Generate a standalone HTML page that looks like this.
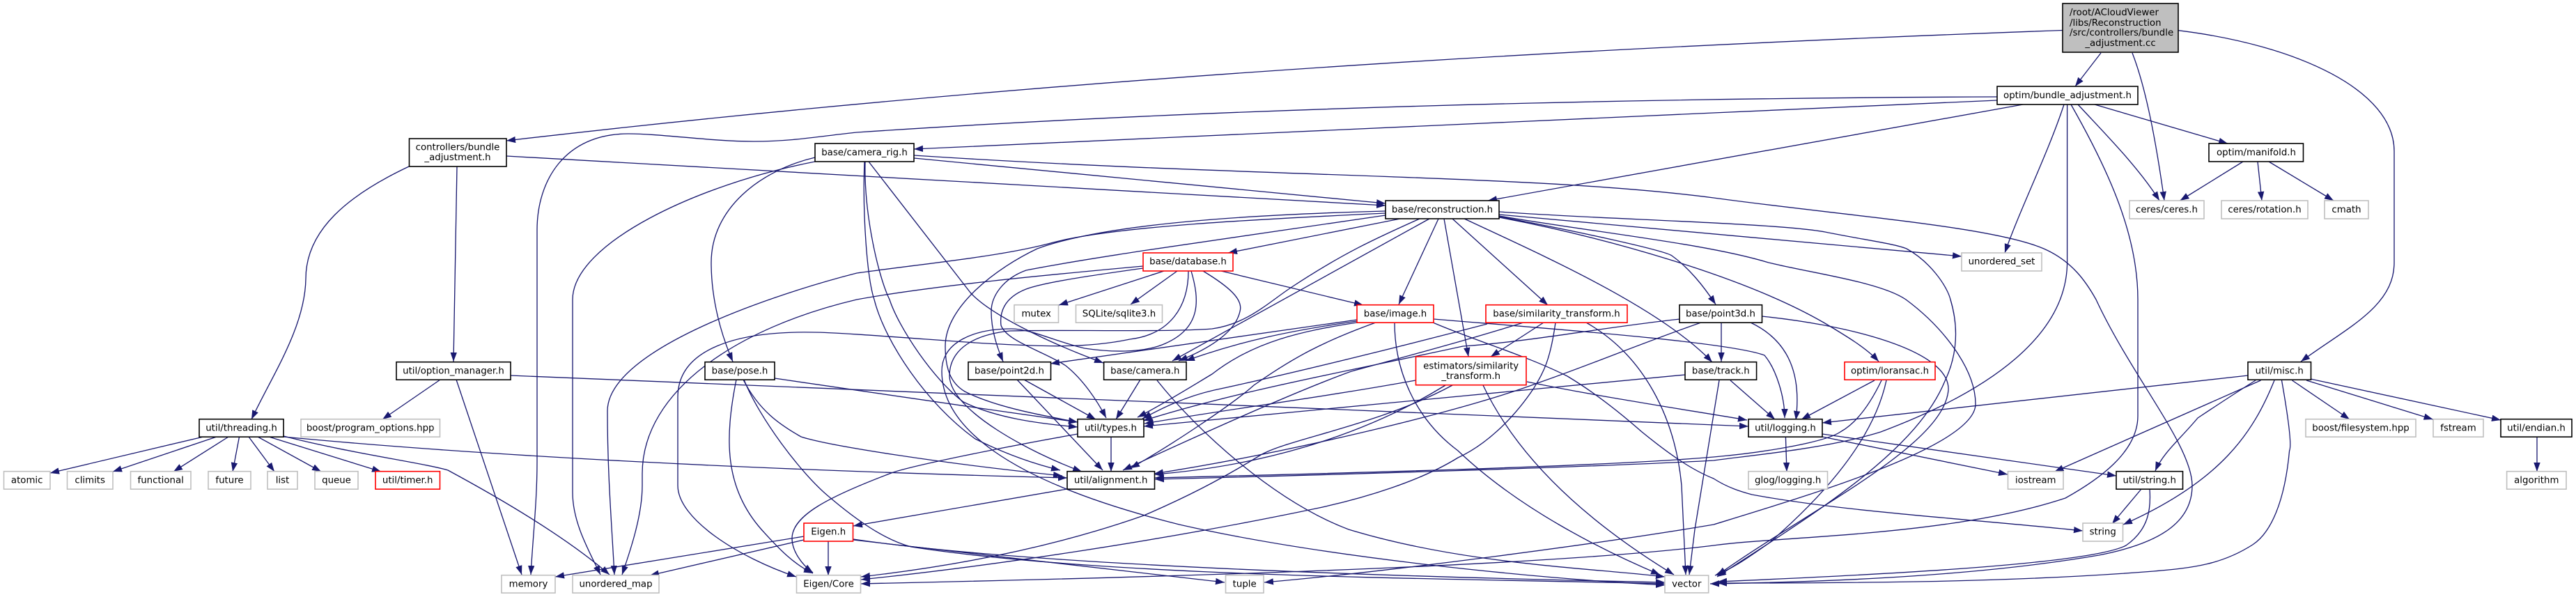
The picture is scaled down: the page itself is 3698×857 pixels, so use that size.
<!DOCTYPE html>
<html><head><meta charset="utf-8"><title>Include graph</title>
<style>
html,body{margin:0;padding:0;background:#fff}
svg{display:block}
text{font-family:"DejaVu Sans",sans-serif;font-size:13.33px;fill:#000;text-anchor:middle}
.n rect{fill:#fff;stroke:#000;stroke-width:1.6}
.g rect{fill:#fff;stroke:#bfbfbf;stroke-width:1.6}
.r rect{fill:#fff;stroke:#f00;stroke-width:1.6}
</style></head><body>
<svg width="3698" height="857" viewBox="0 0 3698 857">
<defs><marker id="a" markerUnits="userSpaceOnUse" markerWidth="13" markerHeight="10" refX="13" refY="5" orient="auto"><path d="M0,0.3L13,5L0,9.7z" fill="#191970" stroke="none"/></marker></defs>
<g fill="none" stroke="#191970" stroke-width="1.33" marker-end="url(#a)">
<!-- root -->
<path d="M2961,43.5C2450,62 1600,100 727,202"/>
<path d="M3016,76L2979,124"/>
<path d="M3061,76C3082,130 3096,210 3107,288"/>
<path d="M3127,43.7C3300,65 3437,130 3437,217L3437,377C3437,440 3370,470 3303,519"/>
<!-- optim/bundle -->
<path d="M2867,144L2460,162L1312,214"/>
<path d="M2867,139C2600,140 1900,145 1230,190C1180,195 1140,203 1082,203C1020,203 950,192 902,192C810,192 771,260 771,330L771,663C771,720 765,770 762,825"/>
<path d="M2904,150L2136,288"/>
<path d="M2963,150C2940,220 2900,300 2878,363"/>
<path d="M2967.6,150L2967.6,377C2967,480 2860,560 2700,620C2620,645 2500,655 2460,661C2300,670 1900,682 1658,688"/>
<path d="M2973,150C3030,250 3069,340 3069,430L3069,597C3069,650 3010,690 2965,715C2800,770 2550,770 2460,783C2200,815 1600,830 1236,838"/>
<path d="M2983,150C3020,190 3070,240 3100,288"/>
<path d="M3007,150L3198,206"/>
<!-- manifold -->
<path d="M3220,232L3129.5,288"/>
<path d="M3241,232L3247,288"/>
<path d="M3257,232L3350,288"/>
<!-- controllers -->
<path d="M727,224L1989,295"/>
<path d="M587,239C500,280 439,330 439,400C438,470 390,540 361,602"/>
<path d="M656,239L651,519"/>
<!-- option manager -->
<path d="M733,539L2510,612"/>
<path d="M655,545L749,825"/>
<path d="M632,545L549,602"/>
<!-- threading -->
<path d="M292,627L72,679"/>
<path d="M311,627L162,677"/>
<path d="M328,627L249,677"/>
<path d="M343.5,627L334,677"/>
<path d="M357,627L394,677"/>
<path d="M370,627L461,677"/>
<path d="M386,627L547,677"/>
<path d="M407,626C500,650 610,665 643,675C680,695 800,760 875,825"/>
<path d="M407,627C700,655 1100,675 1532,686"/>
<!-- camera rig -->
<path d="M1312,227L1989,292"/>
<path d="M1312,223C1800,255 2200,250 2460,284C2650,310 2860,325 2934,357C2975,375 2995,405 3009,430C3060,540 3147,640 3147,697C3147,750 3100,780 3013,797C2850,825 2650,835 2455,838"/>
<path d="M1170,226C1090,245 1021,300 1021,377C1021,430 1035,480 1052,519"/>
<path d="M1170,232C1000,265 822,350 822,430L822,707C822,750 845,790 862,825"/>
<path d="M1242,232C1240,310 1262,400 1277,430C1290,470 1340,545 1383,577C1430,600 1490,608 1547,613"/>
<path d="M1241,232C1238,310 1245,400 1255,430C1270,490 1330,580 1400,630C1440,650 1480,665 1522,675"/>
<path d="M1247,232L1393,420C1420,450 1500,490 1584,521"/>
<!-- reconstruction left -->
<path d="M1989,303C1800,308 1590,320 1489,357C1430,385 1357,440 1357,497C1357,530 1365,550 1385,562C1430,585 1500,597 1547,606"/>
<path d="M1989,306C1800,315 1600,325 1512,348C1440,368 1330,378 1230,392C1120,420 872,500 872,590C872,680 878,750 882,825"/>
<path d="M1989,309C1850,330 1740,345 1640,360C1590,368 1540,375 1473,388C1440,400 1423,425 1423,447C1423,475 1432,500 1440,519"/>
<!-- reconstruction bottom -->
<path d="M2010,314L1763,363"/>
<path d="M2038,314C1980,340 1930,362 1853,413C1820,435 1790,465 1740,472C1680,477 1520,473 1450,475C1400,480 1363,500 1363,540C1365,590 1480,650 1553,677"/>
<path d="M2052,314L1683,518"/>
<path d="M2065,314L2008,437"/>
<path d="M2073,314L2108,512"/>
<path d="M2085,314L2222,438"/>
<path d="M2100,313C2200,360 2383,440 2458,520"/>
<!-- reconstruction right -->
<path d="M2152,304C2300,315 2550,320 2620,333C2680,345 2720,350 2737,357C2770,375 2795,410 2800,430C2815,480 2805,520 2792,547C2750,650 2600,740 2465,828"/>
<path d="M2152,308L2816,368"/>
<path d="M2152,310C2300,335 2450,350 2539,377C2600,392 2700,405 2736,430C2790,470 2836,530 2836,580C2836,640 2600,710 2460,753C2300,780 2000,820 1815,836"/>
<path d="M2152,312C2300,340 2500,395 2618,463C2650,482 2680,500 2697,519"/>
<path d="M2152,311C2280,335 2390,360 2400,367C2425,385 2445,410 2463,437"/>
<!-- database -->
<path d="M1671,389L1520,438"/>
<path d="M1690,389L1623,437"/>
<path d="M1753,389L1957,438"/>
<path d="M1706,389C1706,440 1680,480 1622,487C1560,500 1500,498 1400,492C1300,485 1200,477 1167,477C1060,475 973,500 973,570L973,697C973,745 1060,800 1143,828"/>
<path d="M1710,389C1722,430 1725,470 1673,493C1640,508 1590,505 1557,500C1520,492 1480,472 1452,472C1400,472 1352,490 1352,533C1352,610 1440,690 1693,753C1900,800 2200,830 2390,840"/>
<path d="M1641,382C1500,395 1340,410 1230,430C1060,470 922,560 922,680L922,697C922,740 905,790 893,825"/>
<path d="M1641,385C1570,395 1500,405 1473,415C1440,428 1435,450 1437,467C1445,490 1500,505 1530,525C1555,545 1575,575 1588,600"/>
<path d="M1727,389C1765,412 1785,430 1780,447C1775,470 1750,495 1692,518"/>
<!-- image -->
<path d="M1948,459L1508,522"/>
<path d="M1948,461C1850,475 1780,490 1702,518"/>
<path d="M1948,463C1870,475 1800,490 1740,537C1710,555 1670,580 1633,599"/>
<path d="M1975,463C1900,490 1857,513 1800,553C1770,580 1680,640 1623,672"/>
<path d="M2002,463C2002,530 2030,600 2093,647C2180,730 2300,790 2383,825"/>
<path d="M2058,458C2200,470 2480,490 2533,510C2550,530 2562,570 2562,600"/>
<path d="M2057,463C2120,490 2190,510 2250,540C2300,570 2340,605 2357,620C2400,655 2430,675 2460,687C2480,700 2500,706 2515,710C2650,735 2830,745 2990,762"/>
<!-- similarity -->
<path d="M2135,465C2000,500 1860,535 1743,560C1700,570 1670,585 1640,601"/>
<path d="M2187,463C2100,490 2014,513 1940,533C1857,563 1720,625 1612,675"/>
<path d="M2216,463L2140,512"/>
<path d="M2233,463C2225,520 2215,535 2202,557C2170,605 2130,640 2093,657C2040,690 1960,715 1889,730C1650,780 1400,815 1236,832"/>
<path d="M2277,463C2360,510 2405,600 2414,697L2420,825"/>
<!-- estimators -->
<path d="M2032,546C1900,570 1780,585 1643,608"/>
<path d="M2075,553C1950,630 1800,670 1657,681"/>
<path d="M2085,553C1980,610 1850,630 1810,653C1750,690 1700,715 1642,740C1500,790 1350,815 1236,828"/>
<path d="M2129,553C2180,660 2280,750 2403,825"/>
<path d="M2192,548C2300,570 2400,585 2508,603"/>
<!-- point3d -->
<path d="M2412,458C2300,470 2200,490 2100,497C1950,530 1780,560 1641,604"/>
<path d="M2442,463C2350,495 2280,525 2207,550C2100,590 1850,650 1657,680"/>
<path d="M2471,463L2471,519"/>
<path d="M2513,463C2570,490 2586,540 2578,603"/>
<path d="M2529,454C2640,465 2800,500 2797,560C2790,640 2600,730 2465,826"/>
<!-- track -->
<path d="M2419,538L1642,612"/>
<path d="M2484,546L2548,602"/>
<path d="M2468,546L2433,760L2425,825"/>
<!-- loransac -->
<path d="M2691,546L2586,602"/>
<path d="M2701,546C2680,590 2660,610 2642,620C2620,635 2530,650 2460,656C2300,670 1900,680 1658,686"/>
<path d="M2708,546C2690,630 2620,710 2539,780C2510,800 2490,815 2462,826"/>
<!-- point2d camera types alignment -->
<path d="M1470,545L1573,602"/>
<path d="M1460,545L1583,675"/>
<path d="M1637,545L1602,602"/>
<path d="M1661,546C1720,620 1830,720 1936,760C2100,810 2280,815 2390,828"/>
<path d="M1595,628L1595,677"/>
<path d="M1547,623C1450,640 1300,670 1277,680C1190,713 1137,740 1137,773C1137,790 1150,810 1167,822"/>
<path d="M1532,702L1225,755"/>
<!-- pose -->
<path d="M1112,543L1400,585L1547,606"/>
<path d="M1067,545C1090,590 1120,610 1150,627C1190,640 1350,665 1525,683"/>
<path d="M1057,545C1040,630 1040,700 1093,760C1120,790 1140,810 1167,823"/>
<path d="M1068,545C1090,600 1150,680 1190,713C1230,747 1270,775 1308,785C1600,830 2100,830 2390,838"/>
<!-- Eigen -->
<path d="M1154,770L797,828"/>
<path d="M1154,775L933,826"/>
<path d="M1189,777L1189,826"/>
<path d="M1225,775L1758,836"/>
<path d="M1225,774C1500,815 2100,830 2390,836"/>
<!-- logging etc -->
<path d="M2563.4,627L2565,677"/>
<path d="M2616,627L2882,681"/>
<path d="M2616,623L3038,683"/>
<path d="M3074,702L3032,752"/>
<path d="M3086,702C3088,730 3085,760 3052,783C3000,810 2700,825 2466,835"/>
<!-- misc -->
<path d="M3227,539L2616,607"/>
<path d="M3245.5,546L2949.5,677"/>
<path d="M3238,546C3200,570 3170,590 3155,600C3130,630 3105,650 3094,676"/>
<path d="M3265,546C3235,620 3190,690 3048,753"/>
<path d="M3275.5,546C3285,600 3290,640 3286.6,647C3280,720 3260,765 3233.7,782C3190,810 3150,815 3091.6,820C2900,835 2700,837 2466,837"/>
<path d="M3290.5,546L3373,602"/>
<path d="M3311,546L3492.6,602"/>
<path d="M3317,544L3590,603"/>
<path d="M3642,627L3642,677"/>
</g>
<!-- nodes -->
<g class="n"><rect x="2961" y="5" width="166" height="70" style="fill:#bfbfbf"/>
<text x="2971" y="22" style="text-anchor:start">/root/ACloudViewer</text>
<text x="2971" y="37" style="text-anchor:start">/libs/Reconstruction</text>
<text x="2971" y="51" style="text-anchor:start">/src/controllers/bundle</text>
<text x="3044" y="66">_adjustment.cc</text></g>
<g class="n"><rect x="587.5" y="199" width="139.5" height="40"/><text x="657" y="215.5">controllers/bundle</text><text x="657" y="230">_adjustment.h</text></g>
<g class="n"><rect x="1170" y="206" width="142" height="26"/><text x="1241" y="223">base/camera_rig.h</text></g>
<g class="n"><rect x="1989" y="288" width="163" height="26"/><text x="2070.5" y="305">base/reconstruction.h</text></g>
<g class="r"><rect x="1641" y="363" width="129" height="26"/><text x="1705.5" y="379.5">base/database.h</text></g>
<g class="n"><rect x="2867" y="124" width="202" height="26"/><text x="2968" y="141">optim/bundle_adjustment.h</text></g>
<g class="n"><rect x="3171" y="206" width="135.5" height="26"/><text x="3239" y="223">optim/manifold.h</text></g>
<g class="g"><rect x="3057" y="288" width="107" height="26"/><text x="3110.5" y="305">ceres/ceres.h</text></g>
<g class="g"><rect x="3189" y="288" width="124" height="26"/><text x="3251" y="305">ceres/rotation.h</text></g>
<g class="g"><rect x="3337" y="288" width="63" height="26"/><text x="3368.5" y="305">cmath</text></g>
<g class="g"><rect x="2816" y="363" width="115" height="26"/><text x="2873.5" y="379.5">unordered_set</text></g>
<g class="n"><rect x="569" y="519.7" width="164" height="25.5"/><text x="651" y="536.5">util/option_manager.h</text></g>
<g class="n"><rect x="1012" y="519.7" width="100" height="25.5"/><text x="1062" y="536.5">base/pose.h</text></g>
<g class="n"><rect x="286" y="601.7" width="121" height="25.5"/><text x="346.5" y="618.5">util/threading.h</text></g>
<g class="g"><rect x="432" y="601.7" width="199.5" height="25.5"/><text x="531.7" y="618.5">boost/program_options.hpp</text></g>
<g class="g"><rect x="5.5" y="676.7" width="66.5" height="25.5"/><text x="38.7" y="693.5">atomic</text></g>
<g class="g"><rect x="96.5" y="676.7" width="65.5" height="25.5"/><text x="129.2" y="693.5">climits</text></g>
<g class="g"><rect x="187.5" y="676.7" width="86.5" height="25.5"/><text x="230.7" y="693.5">functional</text></g>
<g class="g"><rect x="299" y="676.7" width="61" height="25.5"/><text x="329.5" y="693.5">future</text></g>
<g class="g"><rect x="384" y="676.7" width="43" height="25.5"/><text x="405.5" y="693.5">list</text></g>
<g class="g"><rect x="452" y="676.7" width="62" height="25.5"/><text x="483" y="693.5">queue</text></g>
<g class="r"><rect x="539" y="676.7" width="92.5" height="25.5"/><text x="585.2" y="693.5">util/timer.h</text></g>
<g class="r"><rect x="1154" y="751" width="70.5" height="26"/><text x="1189.2" y="767.5">Eigen.h</text></g>
<g class="g"><rect x="720" y="825.7" width="77" height="25.5"/><text x="758.5" y="842.5">memory</text></g>
<g class="g"><rect x="822" y="825.7" width="124" height="25.5"/><text x="884" y="842.5">unordered_map</text></g>
<g class="g"><rect x="1143.5" y="825.7" width="92" height="25.5"/><text x="1189.5" y="842.5">Eigen/Core</text></g>
<g class="g"><rect x="1456" y="437.7" width="63.5" height="25.5"/><text x="1487.7" y="454.5">mutex</text></g>
<g class="g"><rect x="1544.5" y="437.7" width="124" height="25.5"/><text x="1606.5" y="454.5">SQLite/sqlite3.h</text></g>
<g class="r"><rect x="1948" y="437.7" width="110" height="25.5"/><text x="2003" y="454.5">base/image.h</text></g>
<g class="r"><rect x="2133" y="437.7" width="203" height="25.5"/><text x="2234.5" y="454.5">base/similarity_transform.h</text></g>
<g class="n"><rect x="2411" y="437.7" width="118.5" height="25.5"/><text x="2470" y="454.5">base/point3d.h</text></g>
<g class="n"><rect x="1390" y="519.7" width="118.5" height="25.5"/><text x="1449" y="536.5">base/point2d.h</text></g>
<g class="n"><rect x="1584.6" y="519.7" width="118.4" height="25.5"/><text x="1643.8" y="536.5">base/camera.h</text></g>
<g class="r"><rect x="2032.5" y="512" width="158.5" height="40.7"/><text x="2111.7" y="529.5">estimators/similarity</text><text x="2111.7" y="544">_transform.h</text></g>
<g class="n"><rect x="2419" y="519.7" width="102.6" height="25.5"/><text x="2470.3" y="536.5">base/track.h</text></g>
<g class="r"><rect x="2648" y="519.7" width="130" height="25.5"/><text x="2713" y="536.5">optim/loransac.h</text></g>
<g class="n"><rect x="3227" y="519.7" width="90.5" height="25.5"/><text x="3272.2" y="536.5">util/misc.h</text></g>
<g class="n"><rect x="1547" y="601.7" width="95" height="25.5"/><text x="1594.5" y="618.5">util/types.h</text></g>
<g class="n"><rect x="2510" y="601.7" width="106" height="25.5"/><text x="2563" y="618.5">util/logging.h</text></g>
<g class="g"><rect x="3310" y="601.7" width="158" height="25.5"/><text x="3389" y="618.5">boost/filesystem.hpp</text></g>
<g class="g"><rect x="3493" y="601.7" width="72" height="25.5"/><text x="3529" y="618.5">fstream</text></g>
<g class="n"><rect x="3590" y="601.7" width="102" height="25.5"/><text x="3641" y="618.5">util/endian.h</text></g>
<g class="n"><rect x="1532" y="676.7" width="125.5" height="25.5"/><text x="1594.7" y="693.5">util/alignment.h</text></g>
<g class="g"><rect x="2510" y="676.7" width="113.5" height="25.5"/><text x="2566.7" y="693.5">glog/logging.h</text></g>
<g class="g"><rect x="2882.5" y="676.7" width="79.5" height="25.5"/><text x="2922.2" y="693.5">iostream</text></g>
<g class="n"><rect x="3038" y="676.7" width="95.5" height="25.5"/><text x="3085.7" y="693.5">util/string.h</text></g>
<g class="g"><rect x="3598.6" y="676.7" width="85.4" height="25.5"/><text x="3641.3" y="693.5">algorithm</text></g>
<g class="g"><rect x="2990" y="751" width="57.5" height="26"/><text x="3018.7" y="767.5">string</text></g>
<g class="g"><rect x="1759.5" y="825.7" width="54.5" height="25.5"/><text x="1786.7" y="842.5">tuple</text></g>
<g class="g"><rect x="2390" y="826" width="62.7" height="25"/><text x="2421.3" y="842.5">vector</text></g>
</svg>
</body></html>
